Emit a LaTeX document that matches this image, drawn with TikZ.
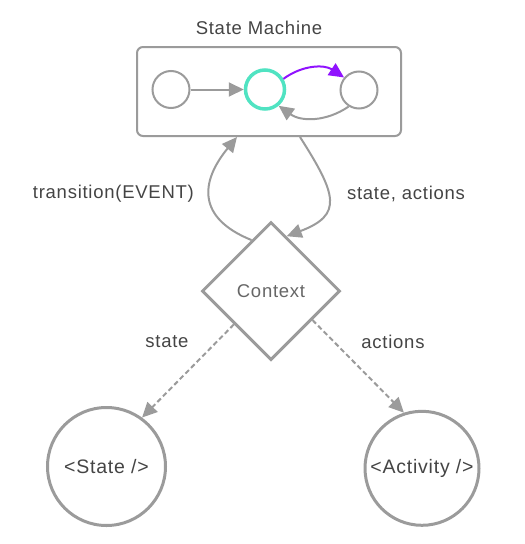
\documentclass[tikz,border=0pt]{standalone}
\usepackage{fontspec}
\setmainfont[LetterSpace=4]{Liberation Sans}
\usetikzlibrary{arrows.meta,shapes.geometric}
\definecolor{lg}{HTML}{9B9B9B}
\definecolor{tx}{HTML}{444444}
\definecolor{ctxc}{HTML}{666666}
\definecolor{tealc}{HTML}{50E3C2}
\definecolor{purp}{HTML}{9013FE}
\begin{document}
\begin{tikzpicture}[x=1pt,y=-1pt,
  txt/.style={font=\fontsize{18.5}{22}\selectfont, text=tx},
  ln/.style={draw=lg, line width=2pt},
  tip/.style={-{Triangle[length=15pt 0 0,width=14pt 0 0]}},
  small/.style={circle, ln, minimum size=37pt, inner sep=0pt},
  big/.style={circle, draw=lg, line width=3pt, inner sep=0pt, font=\fontsize{19.5}{23}\selectfont, text=tx},
  lbl/.style={txt, anchor=base, inner sep=0pt},
  dsh/.style={ln, dash pattern=on 5pt off 3pt}
]
\useasboundingbox (0,0) rectangle (525,544);
\node[lbl] (title) at (259,34) {State Machine};
\node[ln, rounded corners=6pt, minimum width=264pt, minimum height=89pt, inner sep=0pt] (sm) at (269,91.5) {};
\node[small] (s1) at (171,89.5) {};
\node[circle, draw=tealc, line width=3.5pt, minimum size=39pt, inner sep=0pt] (s2) at (265,89.5) {};
\node[small] (s3) at (359,90) {};
\draw[ln,tip] (s1) -- (s2);
\draw[ln, draw=purp, -{Triangle[length=15pt 0 0,width=14pt 0 0,fill=purp]}] (s2.30) to[bend left=35] (s3.140);
\draw[ln,tip] (s3.238) to[bend left=35] (s2.310);
\node[diamond, draw=lg, line width=3pt, minimum width=138pt, minimum height=138pt, inner sep=0pt, font=\fontsize{18.5}{22}\selectfont, text=ctxc] (ctx) at (271,291) {Context};
\node[big, minimum size=118pt] (st) at (106.5,466.5) {<State />};
\node[big, minimum size=114pt] (act) at (422,468.3) {<Activity />};
\draw[ln,tip] (ctx.111) .. controls (197,218) and (200,182) .. ([xshift=-32pt]sm.south);
\draw[ln,tip] ([xshift=31pt]sm.south) .. controls (337,195) and (343,215) .. (ctx.74);
\draw[dsh,tip] (ctx.222) -- (st.54);
\draw[dsh,tip] (ctx.-35) -- (act.108);
\node[lbl] (l1) at (113.4,198.3) {transition(EVENT)};
\node[lbl] (l2) at (406,199.3) {state, actions};
\node[lbl] (l3) at (167,347.3) {state};
\node[lbl] (l4) at (393,348.3) {actions};
\end{tikzpicture}
\end{document}
